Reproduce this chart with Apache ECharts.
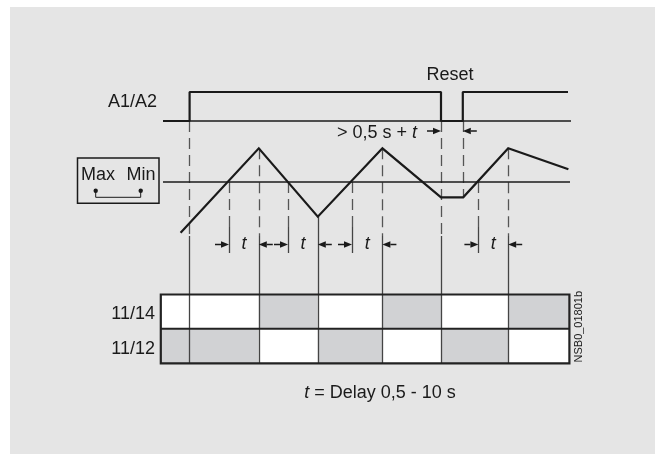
<!DOCTYPE html>
<html>
<head>
<meta charset="utf-8">
<script src="https://cdn.jsdelivr.net/npm/echarts@6/dist/echarts.min.js"></script>
<style>
  html, body { margin: 0; padding: 0; background: #fff; }
  #chart { width: 655px; height: 454px; }
</style>
</head>
<body>
<div id="chart"></div>
<script>
// time in arbitrary units (0 = left edge of the relay box)
const signalSpan = [1.5, 205.5];
const signalTimes = [1.5, 14.8, 14.8, 140.5, 140.5, 151.4, 151.4, 204];
const signalLevels = [0, 0, 1, 1, 0, 0, 1, 1];
const thresholdSpan = [1.5, 205];
const waveTimes = [10.3, 49.4, 78.9, 111.2, 140.5, 151.6, 174.1, 204.2];
const waveValues = [-50.7, 33.7, -34.7, 33.7, -15.3, -15.3, 33.7, 12.7];
const crossTimes = [34.5, 64, 96, 159.2];
const switchTimes = [14.8, 49.4, 78.9, 111.2, 140.5, 174.1];
const resetTimes = [140.5, 151.4];
const boxTimes = [0.4, 204.7];
const relay1114 = [0, 0, 1, 0, 1, 0, 1]; // 1 = grey
const relay1112 = [1, 1, 0, 1, 0, 1, 0];
const rowLabels = ['11/14', '11/12'];

// lane layout (vertical positions)
const SIG_LOW = 121, SIG_HIGH = 92;
const WAVE_MID = 182;
const ARROW_Y = 244.5, RESET_ARROW_Y = 131;
const BOX_TOP = 294.5, BOX_MID = 328.7, BOX_BOT = 363.3;
const SOLID_FROM = 236, TICK_SOLID = 227, TICK_END = 253;
const INK = '#1a1a1a';
const FONT = '"Liberation Sans", Arial, Helvetica, sans-serif';

const sigY = lv => (lv ? SIG_HIGH : SIG_LOW);
const waveY = v => WAVE_MID - v;
function waveAt(t) {
  for (let i = 1; i < waveTimes.length; i++) {
    if (t <= waveTimes[i]) {
      const f = (t - waveTimes[i - 1]) / (waveTimes[i] - waveTimes[i - 1]);
      return waveValues[i - 1] + f * (waveValues[i] - waveValues[i - 1]);
    }
  }
  return waveValues[waveValues.length - 1];
}

// guide lines
const dashed = [], solid = [];
switchTimes.forEach(t => {
  const fromSignal = signalTimes.includes(t);
  const v = waveAt(t);
  if (!fromSignal && v < 0) {
    solid.push({ coords: [[t, waveY(v)], [t, BOX_BOT]] });
  } else {
    dashed.push({ coords: [[t, fromSignal ? SIG_LOW : waveY(v)], [t, SOLID_FROM]] });
    solid.push({ coords: [[t, SOLID_FROM], [t, BOX_BOT]] });
  }
});
dashed.push({ coords: [[resetTimes[1], SIG_LOW], [resetTimes[1], waveY(waveAt(resetTimes[1]))]] });
crossTimes.forEach(t => {
  dashed.push({ coords: [[t, WAVE_MID], [t, TICK_SOLID]] });
  solid.push({ coords: [[t, TICK_SOLID], [t, TICK_END]] });
});

// relay cells
const bounds = [boxTimes[0], ...switchTimes, boxTimes[1]];
const cells = [];
[relay1114, relay1112].forEach((row, r) => {
  row.forEach((g, i) => cells.push([bounds[i], bounds[i + 1], r, g]));
});

// arrows: tip time, y, direction
const arrows = [];
crossTimes.forEach(c => {
  const s = switchTimes.find(x => x > c);
  arrows.push([c, ARROW_Y, 1], [s, ARROW_Y, -1]);
});
arrows.push([resetTimes[0], RESET_ARROW_Y, 1], [resetTimes[1], RESET_ARROW_Y, -1]);

// texts
const labels = [
  { t: -1.5, y: 101.7, text: 'A1/A2', align: 'right' },
  { t: (resetTimes[0] + resetTimes[1]) / 2 - 1, y: 75, text: 'Reset', align: 'center' },
  { t: resetTimes[0] - 12, y: 132.8, text: '> 0,5 s + {i|t}', align: 'right' },
  { t: -2.5, y: 313.7, text: rowLabels[0], align: 'right' },
  { t: -2.5, y: 349, text: rowLabels[1], align: 'right' },
  { t: 110, y: 393, text: '{i|t} = Delay 0,5 - 10 s', align: 'center' },
  { t: boxTimes[1] + 4.6, y: 326.7, text: 'NSB0_01801b', align: 'center', size: 11, rot: Math.PI / 2 }
];
crossTimes.forEach(c => {
  const s = switchTimes.find(x => x > c);
  labels.push({ t: (c + s) / 2, y: 244, text: '{i|t}', align: 'center' });
});

const chart = echarts.init(document.getElementById('chart'));
chart.setOption({
  animation: false,
  backgroundColor: '#fff',
  grid: { left: 0, right: 0, top: 0, bottom: 0, outerBoundsMode: 'none' },
  xAxis: { type: 'value', min: -80, max: 247.5, show: false },
  yAxis: { type: 'value', min: 0, max: 454, inverse: true, show: false },
  graphic: [
    { type: 'rect', z: -10, shape: { x: 10, y: 7, width: 645, height: 447 }, style: { fill: '#e5e5e5' }, silent: true },
    {
      type: 'group', silent: true,
      children: [
        { type: 'rect', shape: { x: 77.5, y: 158, width: 81.5, height: 45.3 }, style: { fill: 'none', stroke: INK, lineWidth: 1.5 } },
        { type: 'text', x: 81, y: 184, style: { text: 'Max', fill: INK, fontSize: 18, fontFamily: FONT, align: 'left', verticalAlign: 'bottom' } },
        { type: 'text', x: 155.5, y: 184, style: { text: 'Min', fill: INK, fontSize: 18, fontFamily: FONT, align: 'right', verticalAlign: 'bottom' } },
        { type: 'polyline', shape: { points: [[95.7, 190.7], [95.7, 197.3], [140.7, 197.3], [140.7, 190.7]] }, style: { fill: 'none', stroke: INK, lineWidth: 1 } },
        { type: 'circle', shape: { cx: 95.7, cy: 190.7, r: 2.2 }, style: { fill: INK } },
        { type: 'circle', shape: { cx: 140.7, cy: 190.7, r: 2.2 }, style: { fill: INK } }
      ]
    }
  ],
  series: [
    {
      type: 'custom', z: 1, silent: true, encode: { x: 0, y: 2 },
      data: cells,
      renderItem(params, api) {
        const r = api.value(2);
        const p0 = api.coord([api.value(0), r ? BOX_MID : BOX_TOP]);
        const p1 = api.coord([api.value(1), r ? BOX_BOT : BOX_MID]);
        return { type: 'rect', shape: { x: p0[0], y: p0[1], width: p1[0] - p0[0], height: p1[1] - p0[1] },
          style: { fill: api.value(3) ? '#d1d2d4' : '#ffffff' } };
      }
    },
    {
      type: 'lines', coordinateSystem: 'cartesian2d', z: 2, silent: true,
      data: dashed,
      lineStyle: { color: '#555', width: 1.3, type: [11, 6], opacity: 1 }
    },
    {
      type: 'lines', coordinateSystem: 'cartesian2d', z: 2, silent: true,
      data: solid,
      lineStyle: { color: '#444', width: 1.3, type: 'solid', opacity: 1 }
    },
    {
      type: 'line', z: 3, silent: true, symbol: 'none', clip: false,
      data: [[signalSpan[0], SIG_LOW], [signalSpan[1], SIG_LOW]],
      lineStyle: { color: INK, width: 1.3 }
    },
    {
      type: 'line', z: 4, silent: true, symbol: 'none', clip: false,
      data: signalTimes.map((t, i) => [t, sigY(signalLevels[i])]),
      lineStyle: { color: INK, width: 2.2 }
    },
    {
      type: 'line', z: 3, silent: true, symbol: 'none', clip: false,
      data: [[thresholdSpan[0], WAVE_MID], [thresholdSpan[1], WAVE_MID]],
      lineStyle: { color: INK, width: 1.4 }
    },
    {
      type: 'line', z: 4, silent: true, symbol: 'none', clip: false,
      data: waveTimes.map((t, i) => [t, waveY(waveValues[i])]),
      lineStyle: { color: INK, width: 2.2, join: 'miter' }
    },
    {
      type: 'custom', z: 5, silent: true, encode: { x: 0, y: 1 },
      data: [[boxTimes[0], BOX_TOP]],
      renderItem(params, api) {
        const a = api.coord([boxTimes[0], BOX_TOP]);
        const b = api.coord([boxTimes[1], BOX_BOT]);
        const m = api.coord([boxTimes[0], BOX_MID]);
        return { type: 'group', children: [
          { type: 'rect', shape: { x: a[0], y: a[1], width: b[0] - a[0], height: b[1] - a[1] }, style: { fill: 'none', stroke: '#222', lineWidth: 2.2 } },
          { type: 'line', shape: { x1: m[0], y1: m[1], x2: b[0], y2: m[1] }, style: { stroke: '#222', lineWidth: 2 } }
        ] };
      }
    },
    {
      type: 'custom', z: 6, silent: true, encode: { x: 0, y: 1 },
      data: arrows,
      renderItem(params, api) {
        const tip = api.coord([api.value(0), api.value(1)]);
        const d = api.value(2);
        const L = 14, H = 8, W = 3.2;
        return { type: 'group', children: [
          { type: 'line', shape: { x1: tip[0] - d * L, y1: tip[1], x2: tip[0] - d * H, y2: tip[1] }, style: { stroke: INK, lineWidth: 1.5 } },
          { type: 'polygon', shape: { points: [[tip[0], tip[1]], [tip[0] - d * H, tip[1] - W], [tip[0] - d * H, tip[1] + W]] }, style: { fill: INK } }
        ] };
      }
    },
    {
      type: 'custom', z: 7, silent: true, encode: { x: 0, y: 1 },
      data: labels.map(l => [l.t, l.y]),
      renderItem(params, api) {
        const l = labels[params.dataIndex];
        const p = api.coord([api.value(0), api.value(1)]);
        const size = l.size || 18;
        return {
          type: 'text', x: p[0], y: p[1], rotation: l.rot || 0,
          style: {
            text: l.text, fill: INK, fontSize: size, fontFamily: FONT,
            align: l.align, verticalAlign: 'middle',
            rich: { i: { fontStyle: 'italic', fontSize: size, fontFamily: FONT, fill: INK } }
          }
        };
      }
    }
  ]
});
</script>
</body>
</html>
